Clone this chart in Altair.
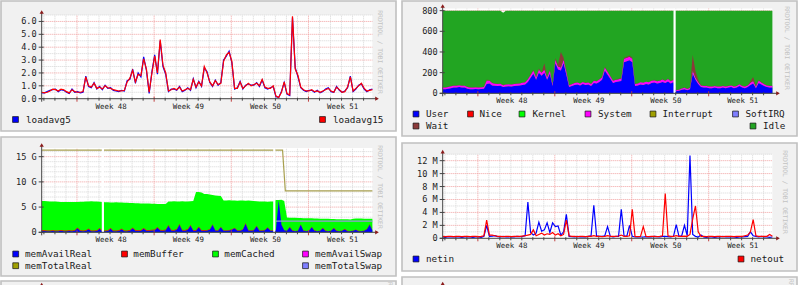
import altair as alt
import pandas as pd

W, H = 800, 285
FONT = "DejaVu Sans Mono"

# ---------------------------------------------------------------- data
# sample times: days from the left edge of each graph (6-hour steps)
DAYS = [i * 0.25 for i in range(121)]

WEEK_LABELS = ["Week 48", "Week 49", "Week 50", "Week 51"]
WEEK_LABEL_DAYS = [6.3, 13.3, 20.3, 27.3]
WEEK_START_DAYS = [3.2, 10.2, 17.2, 24.2]

LOAD_YTICKS = [0, 1, 2, 3, 4, 5, 6]
LOAD_YLABELS = ["0.0", "1.0", "2.0", "3.0", "4.0", "5.0", "6.0"]
CPU_YTICKS = [0, 200, 400, 600, 800]
CPU_YLABELS = ["0", "200", "400", "600", "800"]
MEM_YTICKS = [0, 5, 10, 15]
MEM_YLABELS = ["0", "5 G", "10 G", "15 G"]
NET_YTICKS = [0, 2, 4, 6, 8, 10, 12]
NET_YLABELS = ["0", "2 M", "4 M", "6 M", "8 M", "10 M", "12 M"]

LOAD5 = [0.45, 0.45, 0.55, 0.65, 0.70, 0.75, 0.55, 0.70, 0.65, 0.50, 0.40, 0.75,
         0.50, 0.55, 0.45, 0.50, 1.75, 0.95, 0.85, 1.25, 0.75, 0.95, 0.70, 1.05,
         0.80, 0.85, 0.65, 0.60, 0.55, 0.65, 0.60, 1.40, 1.50, 2.30, 1.20, 2.00,
         1.70, 3.25, 2.20, 0.40, 2.10, 3.40, 1.90, 4.50, 2.50, 1.90, 0.55, 0.75,
         0.75, 0.65, 0.95, 0.55, 0.65, 0.85, 0.65, 1.55, 0.85, 1.35, 0.95, 2.40,
         2.10, 1.25, 0.95, 1.45, 1.05, 1.25, 3.00, 3.30, 3.70, 2.80, 0.75, 0.85,
         1.35, 0.75, 1.05, 1.15, 1.05, 1.05, 1.25, 0.95, 1.45, 0.85, 0.75, 0.85,
         0.95, 0.15, 0.10, 0.55, 1.25, 0.35, 0.25, 6.30, 2.40, 1.70, 0.85, 0.65,
         0.55, 0.65, 0.65, 0.50, 0.65, 0.45, 0.55, 0.75, 0.85, 0.55, 0.50, 0.95,
         0.65, 0.50, 0.60, 0.85, 1.75, 0.55, 0.75, 1.05, 1.15, 0.75, 0.55, 0.70,
         0.75]
LOAD15 = [0.50, 0.45, 0.50, 0.60, 0.75, 0.70, 0.60, 0.75, 0.70, 0.55, 0.45, 0.70,
          0.55, 0.50, 0.50, 0.55, 1.70, 1.00, 0.90, 1.20, 0.80, 0.90, 0.75, 1.00,
          0.85, 0.80, 0.70, 0.65, 0.60, 0.60, 0.65, 1.30, 1.60, 2.20, 1.30, 1.90,
          1.80, 3.10, 2.30, 0.50, 2.00, 3.30, 2.00, 4.60, 2.60, 2.00, 0.60, 0.70,
          0.80, 0.70, 0.90, 0.60, 0.70, 0.80, 0.70, 1.50, 0.90, 1.30, 1.00, 2.50,
          2.00, 1.30, 1.00, 1.40, 1.10, 1.20, 2.90, 3.40, 3.60, 2.90, 0.80, 0.80,
          1.30, 0.80, 1.00, 1.20, 1.00, 1.10, 1.20, 1.00, 1.50, 0.90, 0.80, 0.80,
          1.00, 0.20, 0.10, 0.50, 1.30, 0.40, 0.30, 6.40, 2.30, 1.80, 0.90, 0.70,
          0.60, 0.60, 0.70, 0.55, 0.60, 0.50, 0.60, 0.70, 0.80, 0.60, 0.50, 0.90,
          0.70, 0.50, 0.55, 0.90, 1.70, 0.60, 0.80, 1.00, 1.20, 0.80, 0.60, 0.65,
          0.70]

CPU_NAMES = ["User", "Nice", "Kernel", "System", "Interrupt", "SoftIRQ", "Wait", "Idle"]
CPU_COLORS = ["#0000FF", "#FF0000", "#00FF00", "#FF00FF", "#A0A000", "#7F7FFF", "#8B3A3A", "#22A522"]
CPU_USER = [40, 40, 45, 50, 55, 55, 60, 55, 55, 45,
            40, 40, 42, 40, 42, 45, 90, 95, 75, 72,
            70, 72, 60, 65, 68, 65, 70, 72, 75, 80,
            85, 110, 150, 190, 130, 200, 170, 200, 130, 190,
            70, 290, 230, 220, 290, 180, 60, 70, 80, 85,
            75, 90, 80, 85, 70, 100, 95, 110, 130, 220,
            180, 140, 100, 110, 115, 120, 300, 310, 320, 300,
            70, 75, 85, 80, 90, 85, 100, 105, 95, 100,
            110, 100, 115, 95, 110, 20, 25, 35, 40, 30,
            40, 190, 130, 90, 60, 55, 55, 50, 50, 55,
            50, 50, 55, 50, 55, 60, 50, 55, 70, 55,
            50, 60, 80, 95, 50, 100, 85, 70, 60, 55,
            55]
CPU_SYSTEM = [16, 16, 17, 18, 18, 18, 18, 18, 17, 17, 16, 16, 16, 16, 16,
              17, 35, 30, 24, 20, 20, 20, 18, 20, 20, 20, 20, 20, 20, 22,
              22, 25, 28, 30, 25, 30, 28, 30, 25, 30, 18, 35, 30, 30, 35,
              30, 18, 18, 20, 20, 20, 20, 20, 20, 20, 22, 22, 24, 25, 30,
              28, 24, 22, 22, 22, 24, 35, 35, 35, 35, 20, 20, 21, 21, 21,
              21, 22, 22, 22, 22, 24, 22, 24, 22, 22, 10, 10, 12, 13, 12,
              13, 30, 24, 20, 16, 16, 16, 16, 16, 16, 16, 16, 16, 16, 16,
              16, 16, 16, 18, 16, 16, 16, 22, 24, 16, 24, 20, 18, 16, 16, 16]
CPU_WAIT = [2, 2, 2, 2, 2, 2, 2, 2, 2, 2, 2, 2, 2, 2, 2,
            2, 5, 3, 2, 2, 2, 2, 2, 2, 2, 2, 2, 2, 2, 2,
            2, 3, 5, 8, 5, 10, 5, 60, 5, 10, 3, 15, 20, 150, 20,
            10, 2, 2, 2, 2, 2, 2, 2, 2, 3, 3, 3, 3, 5, 8,
            5, 3, 3, 3, 3, 3, 10, 10, 10, 8, 2, 2, 2, 2, 2,
            2, 2, 3, 3, 3, 3, 3, 3, 3, 3, 2, 2, 2, 3, 3,
            5, 150, 60, 20, 5, 3, 2, 2, 2, 2, 2, 2, 2, 2, 2,
            2, 2, 2, 3, 2, 2, 2, 15, 40, 5, 5, 5, 3, 2, 2, 2]
CPU_TOTAL = [800] * 22 + [780] + [800] * 98
CPU_GAPS = [21.1]

MEM_NAMES = ["memAvailReal", "memBuffer", "memCached", "memAvailSwap", "memTotalReal", "memTotalSwap"]
MEM_COLORS = ["#0000FF", "#FF0000", "#00FF00", "#FF00FF", "#A0A000", "#7F7FFF"]
MEM_CACHED_TOP = [6.2, 6.2, 6.15, 6.1, 6.1, 6.1, 6.05, 6.0, 6.0, 6.0, 6.0, 6.0,
                  6.0, 6.0, 6.05, 6.05, 6.1, 6.1, 6.15, 6.1, 6.1, 6.05, 6.0,
                  5.95, 5.95, 5.9, 5.9, 5.95, 5.9, 5.9, 5.85, 5.85, 5.8, 5.8, 5.75,
                  5.75, 5.7, 5.7, 5.7, 5.7, 5.65, 5.65, 5.6, 5.6, 5.6, 5.6,
                  6.1, 6.1, 6.15, 6.1, 6.1, 6.15, 6.1, 6.1, 6.15, 6.2,
                  8.0, 8.0, 7.9, 7.6,
                  7.6, 7.5, 7.4, 7.3, 7.25, 7.2,
                  6.3, 6.3, 6.35, 6.3, 6.3, 6.25, 6.3, 6.3, 6.25, 6.3, 6.25, 6.2,
                  6.15, 6.1, 6.1, 6.1, 6.05, 6.1, 6.1,
                  6.4, 6.4, 6.45, 6.2,
                  2.95, 2.9, 2.9, 2.9, 2.85, 2.85, 2.8, 2.8, 2.8, 2.8, 2.75, 2.75,
                  2.7, 2.7, 2.7, 2.7, 2.65, 2.65, 2.6, 2.6, 2.6, 2.6, 2.6, 2.55,
                  2.7, 2.75, 2.75, 2.75, 2.7, 2.7, 2.7, 2.7]
MEM_AVAIL_REAL = [0.3, 0.25, 0.2, 0.2, 0.25, 0.2, 0.2, 0.3, 0.2, 0.2, 0.25, 0.2, 0.3,
                  0.8, 0.25, 0.2, 0.25, 0.6, 0.2, 0.2, 0.25, 0.7, 0.2, 0.2, 0.25,
                  0.7, 0.2, 0.2, 0.25, 0.6, 0.2, 0.2, 0.3, 0.8, 0.3, 0.25, 0.3,
                  0.7, 0.3, 0.3, 0.35, 0.4, 0.9, 0.35, 0.3, 0.4, 1.3, 0.35, 0.3,
                  0.5, 1.5, 0.35, 0.3, 0.5, 1.3, 0.3, 0.3, 1.0, 0.3, 0.3, 0.35,
                  0.5, 1.5, 0.35, 0.3, 1.0, 0.3, 0.3, 0.35, 0.5, 0.8, 0.3, 0.3,
                  0.5, 1.7, 0.35, 0.3, 0.4, 1.2, 0.3, 0.3, 0.4, 0.9, 0.3, 0.3,
                  0.5, 6.3, 1.5, 0.4, 0.3, 1.0, 0.3, 0.2, 0.3, 1.5, 0.3, 0.2,
                  0.3, 1.0, 0.3, 0.2, 0.3, 0.8, 0.25, 0.2, 0.3, 0.8, 0.25, 0.2,
                  0.3, 0.6, 0.2, 0.2, 0.3, 0.5, 0.2, 0.2, 0.3, 0.6, 1.5, 0.4]
MEM_BUFFER = [0.15, 0.15, 0.16, 0.15, 0.14, 0.15, 0.15, 0.16, 0.15, 0.15, 0.14, 0.15, 0.15, 0.16, 0.15, 0.15, 0.15, 0.14, 0.15, 0.15,
              0.15, 0.16, 0.15, 0.15, 0.14, 0.15, 0.15, 0.15, 0.16, 0.15, 0.15, 0.14, 0.15, 0.15, 0.15, 0.16, 0.15, 0.15, 0.14, 0.15,
              0.15, 0.15, 0.16, 0.15, 0.15, 0.14, 0.15, 0.15, 0.15, 0.16, 0.15, 0.15, 0.14, 0.15, 0.15, 0.15, 0.16, 0.15, 0.15, 0.14,
              0.13, 0.12, 0.12, 0.13, 0.12, 0.12, 0.12, 0.13, 0.12, 0.12, 0.12, 0.13, 0.12, 0.12, 0.12, 0.13, 0.12, 0.12, 0.12, 0.13,
              0.12, 0.12, 0.12, 0.13, 0.12, 0.08, 0.08, 0.09, 0.08, 0.08, 0.08, 0.09, 0.08, 0.08, 0.08, 0.09, 0.08, 0.08, 0.08, 0.09,
              0.08, 0.08, 0.08, 0.09, 0.08, 0.08, 0.08, 0.09, 0.08, 0.08, 0.08, 0.09, 0.08, 0.08, 0.08, 0.09, 0.08, 0.08, 0.08, 0.09, 0.08]
MEM_TOTAL_REAL_DAYS = [0, 21.85, 22.1, 30]
MEM_TOTAL_REAL = [16.3, 16.3, 8.2, 8.2]
MEM_TOTAL_SWAP_DAYS = [21.25, 30]
MEM_TOTAL_SWAP = [2.2, 2.2]
MEM_GAPS = [5.55, 21.1]

NET_NAMES = ["netin", "netout"]
NET_COLORS = ["#0000FF", "#FF0000"]
NET_IN = [0.2, 0.15, 0.25, 0.2, 0.2, 0.25, 0.2, 0.15, 0.2, 0.25,
          0.2, 0.15, 0.2, 0.2, 0.15, 0.3, 2.0, 0.3, 0.35, 0.4,
          0.25, 0.2, 0.3, 0.2, 0.25, 0.2, 0.2, 0.3, 0.25, 0.3,
          0.4, 5.6, 0.9, 0.5, 0.8, 2.5, 1.1, 1.3, 2.4, 0.9,
          2.4, 1.8, 1.9, 0.5, 1.0, 3.7, 0.3, 0.25, 0.2, 0.3,
          0.2, 0.25, 0.2, 0.3, 0.4, 5.1, 0.4, 0.3, 0.3, 0.4,
          1.8, 0.3, 0.2, 0.3, 0.3, 4.5, 0.4, 0.3, 2.0, 0.3,
          0.2, 0.25, 0.2, 0.2, 0.25, 0.2, 0.2, 0.3, 0.25, 0.2,
          0.3, 0.3, 0.25, 0.2, 0.3, 2.1, 0.3, 0.4, 2.0, 0.4,
          12.8, 0.6, 0.3, 0.2, 0.5, 0.2, 0.15, 0.2, 0.2, 0.15,
          0.2, 0.2, 0.3, 0.2, 0.2, 0.25, 0.2, 0.15, 0.2, 0.2,
          0.25, 0.3, 1.0, 0.4, 0.3, 0.2, 0.3, 0.2, 0.2, 0.15,
          0.2]
NET_OUT = [0.3, 0.25, 0.3, 0.3, 0.25, 0.3, 0.3, 0.25, 0.3, 0.3,
           0.25, 0.3, 0.3, 0.25, 0.3, 0.4, 2.8, 0.5, 0.5, 0.4,
           0.3, 0.3, 0.25, 0.3, 0.3, 0.25, 0.3, 0.3, 0.3, 0.35,
           0.4, 0.5, 0.6, 1.3, 0.4, 0.6, 0.8, 0.5, 0.7, 0.6,
           0.9, 0.5, 0.7, 0.4, 0.6, 2.8, 0.4, 0.3, 0.3, 0.25,
           0.3, 0.3, 0.25, 0.3, 0.3, 0.4, 0.3, 0.3, 0.25, 0.3,
           0.4, 0.3, 0.3, 0.3, 0.35, 0.5, 0.3, 0.3, 0.4, 4.5,
           0.3, 0.25, 0.3, 1.8, 0.3, 0.25, 0.3, 0.3, 0.25, 0.3,
           0.4, 6.9, 0.4, 0.3, 0.3, 0.4, 0.3, 0.3, 0.35, 0.3,
           0.6, 3.0, 5.0, 1.0, 0.3, 0.3, 0.25, 0.3, 0.3, 0.25,
           0.3, 0.3, 0.25, 0.3, 0.3, 0.3, 0.25, 0.3, 0.3, 0.3,
           0.4, 0.5, 1.0, 2.9, 0.4, 0.3, 0.3, 0.3, 0.3, 0.6,
           0.3]

LOAD_NAMES = ["loadavg5", "loadavg15"]
LOAD_COLORS = ["#0000FF", "#FF0000"]

# ---------------------------------------------------------------- layout
P1 = dict(x0=41.7, x1=372.4, ybot=98.7, ytop=15.0, ymax=6.5,
          ticks=LOAD_YTICKS, labels=LOAD_YLABELS, minor=[0.5, 1.5, 2.5, 3.5, 4.5, 5.5, 6.5])
P2 = dict(x0=442.7, x1=772.4, ybot=93.3, ytop=8.6, ymax=820,
          ticks=CPU_YTICKS, labels=CPU_YLABELS, minor=[100, 300, 500, 700])
P3 = dict(x0=41.7, x1=372.4, ybot=232.3, ytop=148.1, ymax=16.7,
          ticks=MEM_YTICKS, labels=MEM_YLABELS, minor=[1, 2, 3, 4, 6, 7, 8, 9, 11, 12, 13, 14, 16])
P4 = dict(x0=442.7, x1=772.4, ybot=238.3, ytop=154.2, ymax=13,
          ticks=NET_YTICKS, labels=NET_YLABELS, minor=[1, 3, 5, 7, 9, 11, 13])

ONE = pd.DataFrame({"k": [0]})
AXIS_COLOR = "#444"
LABEL_COLOR = "#222"
LINE_W = 1.2


def table(**cols):
    n = min(len(v) for v in cols.values())
    return pd.DataFrame({k: list(v)[:n] for k, v in cols.items()})


def panel(cfg, make_layers, gaps=()):
    xs = alt.Scale(domain=[0, 30], range=[cfg["x0"], cfg["x1"]], nice=False, zero=False)
    ys = alt.Scale(domain=[0, cfg["ymax"]], range=[cfg["ybot"], cfg["ytop"]], nice=False, zero=False)
    X = lambda f: alt.X(f, scale=xs, axis=None)
    Y = lambda f: alt.Y(f, scale=ys, axis=None)

    canvas = alt.Chart(table(a=[0], b=[30], c=[0], d=[cfg["ymax"]])).mark_rect(color="white").encode(
        x=X("a:Q"), x2="b:Q", y=Y("c:Q"), y2="d:Q")

    week_starts = [round(w, 1) for w in WEEK_START_DAYS]
    minor_days = [round(0.2 + k, 1) for k in range(30) if round(0.2 + k, 1) not in week_starts]

    def vgrid(days, color):
        return alt.Chart(table(v=days, a=[0] * len(days), b=[cfg["ymax"]] * len(days))).mark_rule(
            color=color, strokeDash=[1, 1], strokeWidth=1).encode(x=X("v:Q"), y=Y("a:Q"), y2="b:Q")

    def hgrid(vals, color):
        return alt.Chart(table(v=vals, a=[0] * len(vals), b=[30] * len(vals))).mark_rule(
            color=color, strokeDash=[1, 1], strokeWidth=1).encode(y=Y("v:Q"), x=X("a:Q"), x2="b:Q")

    layers = [canvas,
              vgrid(minor_days, "#d6d6d6"), hgrid(cfg["minor"], "#d6d6d6"),
              vgrid(WEEK_START_DAYS, "#f0a0a0"), hgrid(cfg["ticks"][1:], "#f0a0a0")]
    layers += make_layers(xs, ys)
    if gaps:
        layers.append(alt.Chart(table(v=list(gaps), a=[0] * len(gaps), b=[cfg["ymax"]] * len(gaps)))
                      .mark_rule(color="white", strokeWidth=2.2)
                      .encode(x=X("v:Q"), y=Y("a:Q"), y2="b:Q"))

    # axis: tick marks and labels, placed through the panel's scales
    x0, yb = cfg["x0"], cfg["ybot"]
    ytab = table(v=cfg["ticks"], lab=cfg["labels"])
    layers.append(alt.Chart(ytab).mark_rule(color=AXIS_COLOR, strokeWidth=1).encode(
        y=Y("v:Q"), x=alt.value(x0 - 3), x2=alt.value(x0 + 2)))
    layers.append(alt.Chart(ytab).mark_text(align="right", baseline="middle", font=FONT, fontSize=8.6,
                                            color=LABEL_COLOR).encode(
        y=Y("v:Q"), x=alt.value(x0 - 5), text="lab:N"))
    layers.append(alt.Chart(table(v=minor_days)).mark_rule(color=AXIS_COLOR, strokeWidth=1).encode(
        x=X("v:Q"), y=alt.value(yb - 1), y2=alt.value(yb + 2)))
    layers.append(alt.Chart(table(v=WEEK_START_DAYS)).mark_rule(color="#c04040", strokeWidth=1).encode(
        x=X("v:Q"), y=alt.value(yb - 2), y2=alt.value(yb + 3)))
    layers.append(alt.Chart(table(v=WEEK_LABEL_DAYS, lab=WEEK_LABELS)).mark_text(
        align="center", baseline="middle", font=FONT, fontSize=7.4, color=LABEL_COLOR).encode(
        x=X("v:Q"), y=alt.value(yb + 8), text="lab:N"))
    return alt.layer(*layers)


def line(df, field, color, xs, ys, xfield="day"):
    return alt.Chart(df).mark_line(color=color, strokeWidth=LINE_W, interpolate="linear").encode(
        x=alt.X(f"{xfield}:Q", scale=xs, axis=None), y=alt.Y(f"{field}:Q", scale=ys, axis=None))


def stacked(series, names, colors, xs, ys):
    rows = []
    for o, (name, vals) in enumerate(series):
        for d, v in zip(DAYS, vals):
            rows.append({"day": d, "v": v, "s": name, "o": o})
    df = pd.DataFrame(rows)
    return alt.Chart(df).mark_area(opacity=1, interpolate="linear").encode(
        x=alt.X("day:Q", scale=xs, axis=None),
        y=alt.Y("v:Q", stack="zero", scale=ys, axis=None),
        color=alt.Color("s:N", scale=alt.Scale(domain=names, range=colors), legend=None),
        order=alt.Order("o:Q"))


def load_layers(xs, ys):
    df = table(day=DAYS, l5=LOAD5, l15=LOAD15)
    return [line(df, "l5", LOAD_COLORS[0], xs, ys), line(df, "l15", LOAD_COLORS[1], xs, ys)]


def cpu_layers(xs, ys):
    idle = alt.Chart(table(day=DAYS, t=CPU_TOTAL)).mark_area(color=CPU_COLORS[7], opacity=1).encode(
        x=alt.X("day:Q", scale=xs, axis=None), y=alt.Y("t:Q", scale=ys, axis=None))
    st = stacked([("User", CPU_USER), ("System", CPU_SYSTEM), ("Wait", CPU_WAIT)],
                 CPU_NAMES, CPU_COLORS, xs, ys)
    return [idle, st]


def mem_layers(xs, ys):
    cached = alt.Chart(table(day=DAYS, t=MEM_CACHED_TOP)).mark_area(color=MEM_COLORS[2], opacity=1).encode(
        x=alt.X("day:Q", scale=xs, axis=None), y=alt.Y("t:Q", scale=ys, axis=None))
    st = stacked([("memAvailReal", MEM_AVAIL_REAL), ("memBuffer", MEM_BUFFER)],
                 MEM_NAMES, MEM_COLORS, xs, ys)
    treal = line(table(d=MEM_TOTAL_REAL_DAYS, v=MEM_TOTAL_REAL), "v", "#A8A050", xs, ys, xfield="d")
    tswap = line(table(d=MEM_TOTAL_SWAP_DAYS, v=MEM_TOTAL_SWAP), "v", "#9A9AD8", xs, ys, xfield="d")
    return [cached, st, tswap, treal]


def net_layers(xs, ys):
    df = table(day=DAYS, i=NET_IN, o=NET_OUT)
    return [line(df, "i", NET_COLORS[0], xs, ys), line(df, "o", NET_COLORS[1], xs, ys)]


p1 = panel(P1, load_layers)
p2 = panel(P2, cpu_layers, CPU_GAPS)
p3 = panel(P3, mem_layers, MEM_GAPS)
p4 = panel(P4, net_layers)

# ---------------------------------------------------------------- decorations


def frame(x0, x1, y0, y1):
    return alt.Chart(ONE).mark_rect(fill="#f1f1f1", stroke="#c0c0c0", strokeWidth=1.6).encode(
        x=alt.value(x0), x2=alt.value(x1), y=alt.value(y0), y2=alt.value(y1))


def rule(x0, y0, x1, y1):
    return alt.Chart(ONE).mark_rule(color=AXIS_COLOR, strokeWidth=1).encode(
        x=alt.value(x0), y=alt.value(y0), x2=alt.value(x1), y2=alt.value(y1))


def arrow(x, y, shape):
    return alt.Chart(ONE).mark_point(shape=shape, filled=True, color="#8B1A1A", size=18, opacity=1).encode(
        x=alt.value(x), y=alt.value(y))


def watermark(x, y, align="center"):
    return alt.Chart(ONE).mark_text(text="RRDTOOL / TOBI OETIKER", angle=90, font=FONT, fontSize=6.3,
                                    color="#c2c2c2", align=align, baseline="middle").encode(
        x=alt.value(x), y=alt.value(y))


def legend(names, colors, pos):
    df = pd.DataFrame({"label": names, "color": colors,
                       "sx": [p[0] for p in pos], "tx": [p[1] for p in pos], "y": [p[2] for p in pos]})
    sq = alt.Chart(df).mark_square(size=34, stroke="#111", strokeWidth=0.7, opacity=1).encode(
        x=alt.X("sx:Q", scale=None, axis=None), y=alt.Y("y:Q", scale=None, axis=None),
        fill=alt.Fill("color:N", scale=None))
    tx = alt.Chart(df).mark_text(align="left", baseline="middle", font=FONT, fontSize=9.3, color="#1a1a1a").encode(
        x=alt.X("tx:Q", scale=None, axis=None), y=alt.Y("y:Q", scale=None, axis=None), text="label:N")
    return [sq, tx]


frames = [frame(1, 396, 1, 131), frame(402, 797, 1, 136), frame(1, 396, 137, 276),
          frame(402, 797, 143, 271), frame(1, 396, 281, 320), frame(402, 797, 277, 320)]

decor = []
for cfg, ay, ax in [(P1, 12, 377), (P2, 6, 778), (P3, 145, 377), (P4, 151.7, 778)]:
    decor += [rule(cfg["x0"], ay, cfg["x0"], cfg["ybot"] + 3), rule(cfg["x0"] - 3, cfg["ybot"], ax, cfg["ybot"]),
              arrow(cfg["x0"], ay, "triangle-up"), arrow(ax, cfg["ybot"], "triangle-right")]
decor += [arrow(41.7, 284.5, "triangle-up"), arrow(442.7, 283.5, "triangle-up")]
decor += [watermark(380, 52), watermark(787, 48), watermark(380, 187), watermark(785, 192),
          watermark(390, 282, "left"), watermark(791, 279, "left")]

decor += legend(LOAD_NAMES, LOAD_COLORS, [(15.5, 26, 119.5), (322.5, 333, 119.5)])
decor += legend(CPU_NAMES, CPU_COLORS,
                [(416, 426, 114), (470.5, 479.5, 114), (522, 532.5, 114), (588, 598, 114),
                 (653, 662.5, 114), (735.5, 745.5, 114), (416, 426, 126), (753, 763, 126)])
decor += legend(MEM_NAMES, MEM_COLORS,
                [(15.7, 25, 254), (124.5, 133.3, 254), (215.5, 224.3, 254), (305.5, 315, 254),
                 (15.7, 25, 265.7), (305.5, 315, 265.7)])
decor += legend(NET_NAMES, NET_COLORS, [(416, 426, 259), (741, 750.5, 259)])

chart = alt.layer(*frames, p1, p2, p3, p4, *decor).resolve_scale(
    x="independent", y="independent", color="independent"
).properties(
    width=W, height=H, autosize=alt.AutoSizeParams(type="none"), padding=0, background="white"
).configure_view(stroke=None)

chart.save("out.html", embed_options={"renderer": "svg", "actions": False})
